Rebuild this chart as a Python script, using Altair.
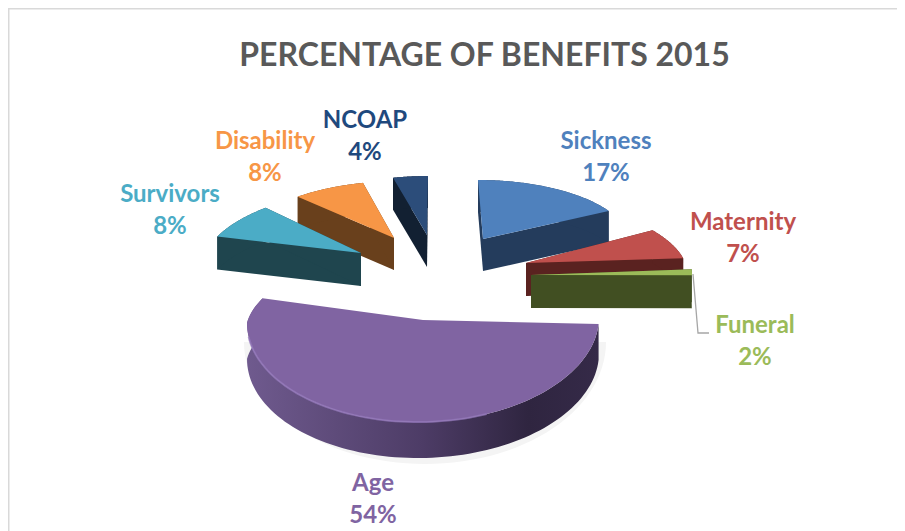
import math
import altair as alt

# ---- chart values -------------------------------------------------------
categories = ["Sickness", "Maternity", "Funeral", "Age", "Survivors", "Disability", "NCOAP"]
shares = [17.1, 7.0, 2.0, 54.0, 8.0, 8.0, 3.9]
share_labels = ["17%", "7%", "2%", "54%", "8%", "8%", "4%"]
title_text = "PERCENTAGE OF BENEFITS 2015"

# ---- colours ------------------------------------------------------------
top_colors = ["#4f81bd", "#c0504d", "#9bbb59", "#8064a2", "#4bacc6", "#f79646", "#2c4d7a"]
side_colors = ["#243c5c", "#5a2220", "#414f22", "#3c2f50", "#1f454e", "#69401c", "#122032"]
label_colors = ["#4f81bd", "#c0504d", "#9bbb59", "#8064a2", "#4bacc6", "#f79646", "#1f497d"]

# ---- exploded, tilted pie geometry (canvas pixels) ----------------------
# tip x, tip y, rx, far ry, near ry, x shear, y shear, depth
shape = {
    "Sickness": (483, 239, 145.6, 59, 59, -5, 0, 32),
    "Maternity": (526, 263, 159, 67, 67, -28, -1, 33),
    "Funeral": (531, 275, 161, 100, 5, 0, 0, 33),
    "Age": (423, 320, 176, 78, 102, 21, -3, 36),
    "Survivors": (361, 253, 156.4, 66, 66, 15, -4.6, 33),
    "Disability": (394, 238, 146.5, 57, 57, 4.6, -0.7, 32),
    "NCOAP": (427, 235, 144, 59, 59, 1, 0, 32),
}
paint_order = ["NCOAP", "Disability", "Survivors", "Sickness", "Maternity", "Funeral", "Age"]


def rim_point(name, angle):
    cx, cy, rx, far, near, sx, sy, _ = shape[name]
    s, c = math.sin(angle), math.cos(angle)
    ry = far if c > 0 else near
    return [cx + rx * s + sx * max(c, 0), cy - ry * c + sy * s]


def polygon(points, fill):
    return {
        "type": "Feature",
        "properties": {"fill": fill},
        "geometry": {"type": "Polygon", "coordinates": [points + [points[0]]]},
    }


def lowered(points, depth):
    return [[x, y + depth] for x, y in reversed(points)]


total = sum(shares)
spans = {}
running = 0.0
for name, share in zip(categories, shares):
    spans[name] = (running / total * 2 * math.pi, (running + share) / total * 2 * math.pi)
    running += share

side_features, rim_features = [], []
for name in paint_order:
    i = categories.index(name)
    a0, a1 = spans[name]
    steps = 96
    arc = [rim_point(name, a0 + (a1 - a0) * k / steps) for k in range(steps + 1)]
    tip = [shape[name][0], shape[name][1]]
    depth = shape[name][7]
    sides = [
        [tip, arc[0]],
        [arc[-1], tip],
        arc,
    ]
    group = []
    for edge in sides:
        group.append(polygon(edge + lowered(edge, depth), side_colors[i]))
    group.append(polygon([tip] + arc, top_colors[i]))
    if name == "Age":
        rim_features = [
            {
                "type": "Feature",
                "properties": {},
                "geometry": {
                    "type": "LineString",
                    "coordinates": [p for p in arc if p[1] > 335 and p[0] < 490],
                },
            }
        ]
        side_features.append(("age", group))
    else:
        side_features.append(("plain", group))

projection = alt.Projection(type="identity", scale=1, translate=[-8, -8])


def shapes(features, **kw):
    return (
        alt.Chart(alt.Data(values=features))
        .mark_geoshape(**kw)
        .encode(color=alt.Color("properties.fill:N", scale=None, legend=None))
        .project(**projection.to_dict())
    )


layers = []

# frame of the chart area
frame = {
    "type": "Feature",
    "properties": {},
    "geometry": {"type": "LineString", "coordinates": [[8.5, 531], [8.5, 8.5], [905, 8.5]]},
}
layers.append(
    alt.Chart(alt.Data(values=[frame]))
    .mark_geoshape(filled=False, stroke="#d9d9d9", strokeWidth=2)
    .project(**projection.to_dict())
)

# soft shadow under the big slice
shadow = polygon(
    [[425 + 181 * math.cos(t / 60 * math.pi), 342 + 122 * math.sin(t / 60 * math.pi)] for t in range(0, 61)],
    "#f4f4f4",
)
layers.append(shapes([shadow], strokeWidth=0))

for kind, group in side_features:
    if kind == "age":
        band = group[2]
        layers.append(
            alt.Chart(alt.Data(values=[band]))
            .mark_geoshape(
                strokeWidth=0,
                fill=alt.Gradient(
                    gradient="linear",
                    x1=0, x2=1, y1=0, y2=0,
                    stops=[
                        alt.GradientStop(color="#6f5a8e", offset=0),
                        alt.GradientStop(color="#4d3c66", offset=0.5),
                        alt.GradientStop(color="#2f2540", offset=0.8),
                        alt.GradientStop(color="#352a48", offset=1),
                    ],
                ),
            )
            .project(**projection.to_dict())
        )
        layers.append(shapes([group[3]], strokeWidth=0))
        layers.append(
            alt.Chart(alt.Data(values=rim_features))
            .mark_geoshape(filled=False, stroke="#9478bb", strokeWidth=2, opacity=0.75)
            .project(**projection.to_dict())
        )
    else:
        layers.append(shapes(group, strokeWidth=0))

# leader line for the Funeral label
leader = {
    "type": "Feature",
    "properties": {},
    "geometry": {"type": "LineString", "coordinates": [[693, 274], [698, 333], [709, 333]]},
}
layers.append(
    alt.Chart(alt.Data(values=[leader]))
    .mark_geoshape(filled=False, stroke="#a6a6a6", strokeWidth=1.3)
    .project(**projection.to_dict())
)

# data labels
label_anchor = {
    "Sickness": (606, 142),
    "Maternity": (743, 223),
    "Funeral": (755, 326),
    "Age": (373, 484),
    "Survivors": (170, 195),
    "Disability": (265, 142),
    "NCOAP": (365, 121),
}
rows = []
for name, pct, col in zip(categories, share_labels, label_colors):
    x, y = label_anchor[name]
    rows.append({"lon": x, "lat": y, "text": name, "c": col})
    rows.append({"lon": x, "lat": y + 32, "text": pct, "c": col})

layers.append(
    alt.Chart(alt.Data(values=rows))
    .mark_text(font="Lato", fontWeight="bold", fontSize=24, align="center", baseline="middle")
    .encode(
        longitude="lon:Q",
        latitude="lat:Q",
        text="text:N",
        color=alt.Color("c:N", scale=None, legend=None),
    )
    .project(**projection.to_dict())
)

chart = (
    alt.layer(*layers)
    .properties(
        width=889,
        height=523,
        padding=0,
        autosize=alt.AutoSizeParams(type="none"),
        title=alt.TitleParams(
            title_text,
            font="Lato",
            fontWeight="bold",
            fontSize=32,
            color="#595959",
            anchor="middle",
            offset=-65,
            dx=32,
        ),
    )
    .configure_view(stroke=None)
)

chart.save("out.html", embed_options={"renderer": "svg", "actions": False})
